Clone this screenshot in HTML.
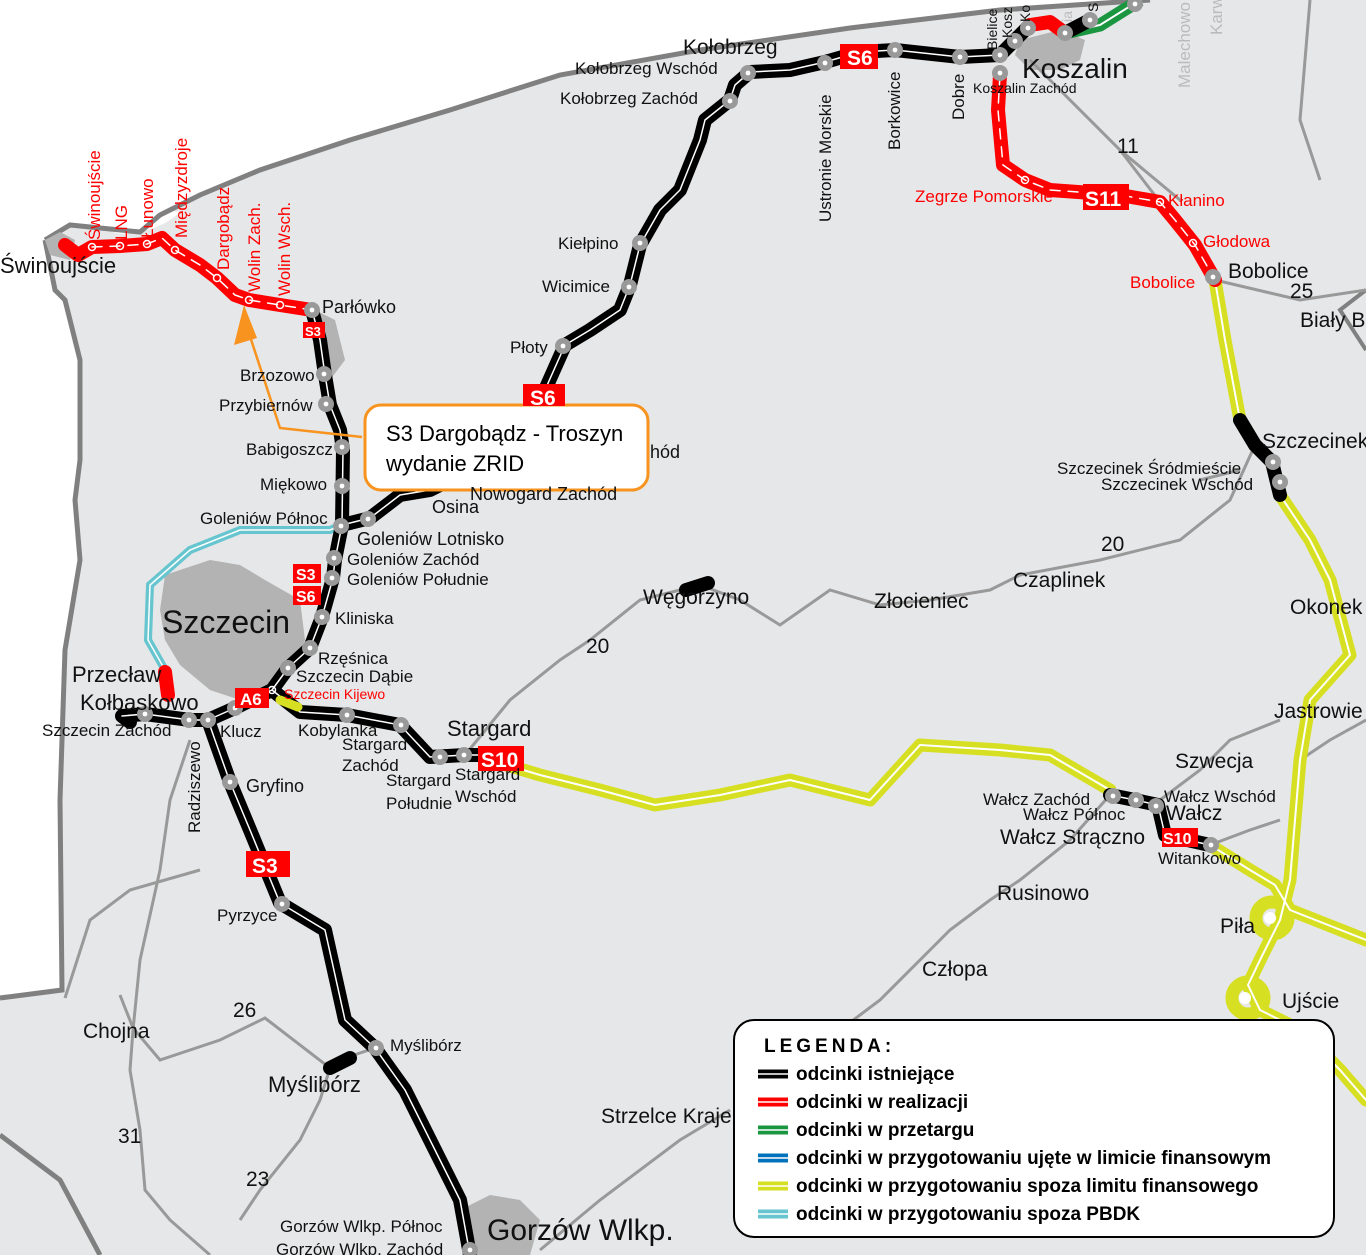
<!DOCTYPE html>
<html><head><meta charset="utf-8"><style>
html,body{margin:0;padding:0;background:#fff}
svg{display:block}
text{font-family:"Liberation Sans","DejaVu Sans",sans-serif}
</style></head><body>
<svg width="1366" height="1255" viewBox="0 0 1366 1255" xmlns="http://www.w3.org/2000/svg">
<!-- land -->
<path d="M45,240 L70,225 L100,228 L140,232 L160,215 L200,195 L260,170 L350,140 L450,110 L560,75 L700,50 L850,28 L1000,10 L1150,0 L1366,0 L1366,1255 L0,1255 L0,995 L62,990 L60,800 L65,650 L80,560 L75,500 L80,460 L80,360 L65,300 L55,290 Z" fill="#e6e7e8"/>
<path d="M100,228 Q140,205 180,212 Q160,232 120,234 Z" fill="#fff"/>
<path d="M45,240 L70,225 L100,228 L140,232 L160,215 L200,195 L260,170 L350,140 L450,110 L560,75 L700,50 L850,28 L1000,10 L1150,0" fill="none" stroke="#808080" stroke-width="5"/>
<path d="M45,240 L55,290 L65,300 L80,360 L80,460 L75,500 L80,560 L65,650 L60,800 L62,990 L0,998" fill="none" stroke="#808080" stroke-width="5"/>
<path d="M0,1135 L60,1180 L100,1255" fill="none" stroke="#808080" stroke-width="5"/>
<path d="M1366,290 L1340,310 L1366,350" fill="none" stroke="#808080" stroke-width="4"/>
<!-- city blobs -->
<path d="M45,240 L60,232 L75,240 L70,260 L50,255 Z" fill="#b3b3b3"/>
<path d="M315,310 L335,320 L345,360 L330,380 L320,340 Z" fill="#b3b3b3"/>
<path d="M165,575 L210,560 L240,565 L265,580 L300,600 L305,640 L290,670 L270,690 L240,700 L210,690 L180,665 L165,640 L160,610 Z" fill="#b3b3b3"/>
<path d="M1020,40 L1060,30 L1085,40 L1080,60 L1060,70 L1030,70 L1015,55 Z" fill="#b3b3b3"/>
<path d="M460,1210 L490,1195 L520,1200 L540,1220 L530,1255 L470,1255 Z" fill="#b3b3b3"/>
<!-- minor roads -->
<g fill="none" stroke="#999" stroke-width="3">
<path d="M1030,60 L1120,150 L1180,200"/>
<path d="M1215,280 L1300,300 L1366,290"/>
<path d="M1255,445 L1230,500 L1180,540 L1100,560 L1020,575 L990,590 L930,600 L880,605 L830,590 L780,625 L740,600 L700,585 L640,600 L590,640 L560,660 L510,700 L465,755"/>
<path d="M1110,795 L1070,840 L1020,880 L990,900 L950,930 L930,950 L880,1000 L840,1030 L780,1080 L740,1110"/>
<path d="M120,995 L133,1028 L160,1060 L220,1040 L265,1018 L330,1068 L320,1100 L300,1140 L260,1190 L240,1220"/>
<path d="M133,1030 L130,1070 L140,1130 L145,1190 L170,1220 L210,1255"/>
<path d="M133,1030 L140,960 L160,870 L170,800 L190,740"/>
<path d="M65,998 L90,920 L130,890 L200,870"/>
<path d="M345,1058 L375,1048"/>
<path d="M540,1250 L600,1200 L680,1140 L730,1110"/>
<path d="M1160,800 L1200,770 L1230,740 L1280,720"/>
<path d="M1210,845 L1250,830 L1280,820"/>
<path d="M1300,760 L1330,740 L1366,720"/>
<path d="M1160,202 L1120,150"/>
<path d="M1240,420 L1230,380"/>
<path d="M1200,480 L1240,470"/>
<path d="M1310,0 L1300,120 L1320,180"/>
</g>
<!-- cyan -->
<path d="M342,525 L330,530 L240,530 L190,550 L150,585 L148,640 L165,670" fill="none" stroke="#66c5cf" stroke-width="8"/>
<path d="M342,525 L330,530 L240,530 L190,550 L150,585 L148,640 L165,670" fill="none" stroke="#fff" stroke-width="1.5"/>
<!-- yellow -->
<g fill="none" stroke-linejoin="round" stroke-linecap="round">
<g stroke="#d7df23" stroke-width="13">
<path d="M490,760 L540,775 L600,790 L655,805 L720,795 L790,780 L870,800 L920,745 L1000,750 L1050,755 L1110,790"/>
<path d="M1210,845 L1250,870 L1275,885 L1290,910 L1366,940"/>
<path d="M1215,280 L1225,340 L1240,420"/>
<path d="M1280,495 L1310,540 L1330,580 L1350,655 L1310,700 L1300,760 L1295,820 L1290,880 L1280,920 L1260,960 L1248,985 L1260,1010 L1300,1030 L1340,1070 L1366,1100"/>
<circle cx="1272" cy="918" r="16"/>
<circle cx="1248" cy="998" r="16"/>
</g>
<g stroke="#fff" stroke-width="2">
<path d="M490,760 L540,775 L600,790 L655,805 L720,795 L790,780 L870,800 L920,745 L1000,750 L1050,755 L1110,790"/>
<path d="M1210,845 L1250,870 L1275,885 L1290,910 L1366,940"/>
<path d="M1215,280 L1225,340 L1240,420"/>
<path d="M1280,495 L1310,540 L1330,580 L1350,655 L1310,700 L1300,760 L1295,820 L1290,880 L1280,920 L1260,960 L1248,985 L1260,1010 L1300,1030 L1340,1070 L1366,1100"/>
</g>
<circle cx="1270" cy="918" r="6" fill="#fff" stroke="none"/>
<circle cx="1245" cy="998" r="6" fill="#fff" stroke="none"/>
</g>
<!-- green -->
<path d="M1065,33 L1100,25 L1140,0" fill="none" stroke="#1a9641" stroke-width="13"/>
<path d="M1065,33 L1100,25 L1140,0" fill="none" stroke="#fff" stroke-width="2"/>
<!-- black -->
<g fill="none" stroke-linejoin="round" stroke-linecap="round">
<g stroke="#000" stroke-width="14">
<path d="M1000,55 L960,57 L895,50 L860,52 L825,62 L790,70 L750,72 L735,85 L730,100 L705,120 L700,140 L680,190 L660,210 L640,245 L630,285 L620,310 L590,330 L565,345 L545,390"/>
<path d="M1000,55 L1015,40 L1030,25"/>
<path d="M1065,33 L1090,20"/>
<path d="M342,525 L370,518 L400,495 L430,490 L470,470"/>
<path d="M312,310 L320,340 L325,375 L330,405 L340,430 L343,450 L342,525 L335,560 L333,578 L322,617 L310,648 L288,668 L272,690 L235,708 L208,720 L190,720 L145,714 L122,716 L130,722"/>
<path d="M208,720 L215,740 L230,782 L250,830 L280,903 L325,930 L345,1020 L375,1048 L405,1090 L435,1150 L460,1200 L470,1255"/>
<path d="M272,690 L300,712 L347,715 L400,725 L430,757 L465,755 L490,755"/>
<path d="M1110,795 L1135,800 L1158,805 L1165,835 L1210,845"/>
<path d="M1240,420 L1255,445 L1272,462 L1280,495"/>
<path d="M686,590 L708,583"/>
<path d="M330,1068 L350,1058"/>
</g>
<g stroke="#fff" stroke-width="1.5">
<path d="M1000,55 L960,57 L895,50 L860,52 L825,62 L790,70 L750,72 L735,85 L730,100 L705,120 L700,140 L680,190 L660,210 L640,245 L630,285 L620,310 L590,330 L565,345 L545,390"/>
<path d="M342,525 L370,518 L400,495 L430,490 L470,470"/>
<path d="M312,310 L320,340 L325,375 L330,405 L340,430 L343,450 L342,525 L335,560 L333,578 L322,617 L310,648 L288,668 L272,690 L235,708 L208,720 L190,720 L145,714 L122,716"/>
<path d="M208,720 L215,740 L230,782 L250,830 L280,903 L325,930 L345,1020 L375,1048 L405,1090 L435,1150 L460,1200 L470,1255"/>
<path d="M272,690 L300,712 L347,715 L400,725 L430,757 L465,755 L490,755"/>
<path d="M1110,795 L1135,800 L1158,805 L1165,835 L1210,845"/>
</g>
</g>
<!-- red -->
<g fill="none" stroke-linejoin="round" stroke-linecap="round">
<g stroke="#f00" stroke-width="14">
<path d="M65,245 L78,255 L92,247 L120,246 L147,244 L162,238 L175,250 L200,265 L217,278 L235,295 L249,300 L280,305 L312,310"/>
<path d="M1000,75 L998,110 L1003,165 L1025,180 L1050,190 L1120,195 L1160,202 L1175,220 L1195,245 L1215,280"/>
<path d="M1030,25 L1050,22 L1065,33"/>
<path d="M165,672 L168,695"/>
</g>
<g stroke="#fff" stroke-width="1.5" stroke-dasharray="10,8">
<path d="M92,247 L120,246 L147,244 L162,238 L175,250 L200,265 L217,278 L235,295 L249,300 L280,305 L312,310"/>
<path d="M1000,75 L998,110 L1003,165 L1025,180 L1050,190 L1120,195 L1160,202 L1175,220 L1195,245 L1215,280"/>
</g>
</g>
<!-- nodes -->
<g>
<g fill="#999" stroke="none">
<circle cx="1000" cy="55" r="8"/><circle cx="960" cy="57" r="8"/><circle cx="895" cy="50" r="8"/><circle cx="825" cy="63" r="8"/><circle cx="748" cy="73" r="8"/><circle cx="730" cy="101" r="8"/><circle cx="640" cy="243" r="8"/><circle cx="629" cy="287" r="8"/><circle cx="563" cy="346" r="8"/>
<circle cx="1015" cy="41" r="8"/><circle cx="1028" cy="28" r="8"/><circle cx="1090" cy="20" r="8"/><circle cx="1135" cy="4" r="8"/>
<circle cx="312" cy="310" r="8"/><circle cx="324" cy="374" r="8"/><circle cx="326" cy="404" r="8"/><circle cx="342" cy="447" r="8"/><circle cx="342" cy="486" r="8"/><circle cx="341" cy="526" r="8"/><circle cx="368" cy="519" r="8"/><circle cx="334" cy="558" r="8"/><circle cx="332" cy="578" r="8"/><circle cx="322" cy="617" r="8"/><circle cx="310" cy="648" r="8"/><circle cx="288" cy="668" r="8"/>
<circle cx="235" cy="708" r="8"/><circle cx="208" cy="720" r="8"/><circle cx="189" cy="720" r="8"/><circle cx="145" cy="714" r="8"/><circle cx="230" cy="782" r="8"/><circle cx="282" cy="904" r="8"/><circle cx="376" cy="1048" r="8"/><circle cx="470" cy="1250" r="8"/>
<circle cx="347" cy="715" r="8"/><circle cx="401" cy="725" r="8"/><circle cx="440" cy="757" r="8"/><circle cx="464" cy="755" r="8"/>
<circle cx="1113" cy="796" r="8"/><circle cx="1136" cy="800" r="8"/><circle cx="1156" cy="806" r="8"/><circle cx="1211" cy="845" r="8"/><circle cx="1273" cy="462" r="8"/><circle cx="1280" cy="482" r="8"/>
<circle cx="1000" cy="73" r="8"/><circle cx="1065" cy="33" r="8"/><circle cx="1213" cy="277" r="8"/>
</g>
<g fill="#fff"><circle cx="1000" cy="55" r="2.4"/><circle cx="960" cy="57" r="2.4"/><circle cx="895" cy="50" r="2.4"/><circle cx="825" cy="63" r="2.4"/><circle cx="748" cy="73" r="2.4"/><circle cx="730" cy="101" r="2.4"/><circle cx="640" cy="243" r="2.4"/><circle cx="629" cy="287" r="2.4"/><circle cx="563" cy="346" r="2.4"/><circle cx="1015" cy="41" r="2.4"/><circle cx="1028" cy="28" r="2.4"/><circle cx="1090" cy="20" r="2.4"/><circle cx="1135" cy="4" r="2.4"/><circle cx="312" cy="310" r="2.4"/><circle cx="324" cy="374" r="2.4"/><circle cx="326" cy="404" r="2.4"/><circle cx="342" cy="447" r="2.4"/><circle cx="342" cy="486" r="2.4"/><circle cx="341" cy="526" r="2.4"/><circle cx="368" cy="519" r="2.4"/><circle cx="334" cy="558" r="2.4"/><circle cx="332" cy="578" r="2.4"/><circle cx="322" cy="617" r="2.4"/><circle cx="310" cy="648" r="2.4"/><circle cx="288" cy="668" r="2.4"/><circle cx="235" cy="708" r="2.4"/><circle cx="208" cy="720" r="2.4"/><circle cx="189" cy="720" r="2.4"/><circle cx="145" cy="714" r="2.4"/><circle cx="230" cy="782" r="2.4"/><circle cx="282" cy="904" r="2.4"/><circle cx="376" cy="1048" r="2.4"/><circle cx="470" cy="1250" r="2.4"/><circle cx="347" cy="715" r="2.4"/><circle cx="401" cy="725" r="2.4"/><circle cx="440" cy="757" r="2.4"/><circle cx="464" cy="755" r="2.4"/><circle cx="1113" cy="796" r="2.4"/><circle cx="1136" cy="800" r="2.4"/><circle cx="1156" cy="806" r="2.4"/><circle cx="1211" cy="845" r="2.4"/><circle cx="1273" cy="462" r="2.4"/><circle cx="1280" cy="482" r="2.4"/><circle cx="1000" cy="73" r="2.4"/><circle cx="1065" cy="33" r="2.4"/><circle cx="1213" cy="277" r="2.4"/></g>
<g fill="none" stroke="#fff" stroke-width="1.5">
<circle cx="92" cy="247" r="3.5"/><circle cx="120" cy="246" r="3.5"/><circle cx="147" cy="244" r="3.5"/><circle cx="175" cy="250" r="3.5"/><circle cx="217" cy="278" r="3.5"/><circle cx="249" cy="300" r="3.5"/><circle cx="280" cy="305" r="3.5"/><circle cx="1025" cy="180" r="3.5"/><circle cx="1160" cy="202" r="3.5"/><circle cx="1193" cy="243" r="3.5"/><circle cx="272" cy="690" r="3.5"/>
</g>
</g>
<!-- A6 yellow bit -->
<path d="M280,700 L298,707" stroke="#d7df23" stroke-width="9" stroke-linecap="round"/>
<!-- orange arrow -->
<path d="M362,437 L280,428 L244,318" fill="none" stroke="#f7931e" stroke-width="2.5"/>
<path d="M244,305 L234,345 L257,338 Z" fill="#f7931e"/>
<rect x="365" y="405" width="283" height="85" rx="16" fill="#fff" stroke="#f7931e" stroke-width="3"/>
<text x="386" y="441" font-size="22">S3 Dargobądz - Troszyn</text>
<text x="386" y="471" font-size="22">wydanie ZRID</text>
<!-- red shield labels -->
<g font-weight="bold" fill="#fff">
<rect x="840" y="44" width="38" height="25" fill="#f00"/><text x="847" y="65" font-size="21">S6</text>
<rect x="523" y="384" width="42" height="22" fill="#f00"/><text x="530" y="405" font-size="21">S6</text>
<rect x="303" y="322" width="22" height="16" fill="#f00"/><text x="305" y="336" font-size="13">S3</text>
<rect x="293" y="564" width="28" height="19" fill="#f00"/><text x="296" y="580" font-size="16">S3</text>
<rect x="293" y="586" width="28" height="19" fill="#f00"/><text x="296" y="602" font-size="16">S6</text>
<rect x="235" y="688" width="34" height="20" fill="#f00"/><text x="240" y="705" font-size="17">A6</text>
<rect x="478" y="746" width="46" height="25" fill="#f00"/><text x="481" y="767" font-size="21">S10</text>
<rect x="1083" y="184" width="46" height="26" fill="#f00"/><text x="1085" y="206" font-size="21">S11</text>
<rect x="1162" y="828" width="36" height="19" fill="#f00"/><text x="1163" y="844" font-size="16">S10</text>
<rect x="246" y="851" width="44" height="26" fill="#f00"/><text x="252" y="873" font-size="21">S3</text>
</g>
<!-- labels black -->
<g fill="#111" font-size="17">
<text x="0" y="273" font-size="22">Świnoujście</text>
<text x="322" y="313" font-size="18">Parłówko</text>
<text x="240" y="381">Brzozowo</text>
<text x="219" y="411">Przybiernów</text>
<text x="246" y="455">Babigoszcz</text>
<text x="260" y="490">Miękowo</text>
<text x="200" y="524">Goleniów Północ</text>
<text x="432" y="513" font-size="18">Osina</text>
<text x="470" y="500" font-size="18">Nowogard Zachód</text>
<text x="650" y="458" font-size="18">hód</text>
<text x="357" y="545" font-size="18">Goleniów Lotnisko</text>
<text x="347" y="565">Goleniów Zachód</text>
<text x="347" y="585">Goleniów Południe</text>
<text x="335" y="624">Kliniska</text>
<text x="162" y="633" font-size="32">Szczecin</text>
<text x="318" y="664">Rzęśnica</text>
<text x="296" y="682">Szczecin Dąbie</text>
<text x="72" y="682" font-size="22">Przecław</text>
<text x="80" y="710" font-size="22">Kołbaskowo</text>
<text x="42" y="736">Szczecin Zachód</text>
<text x="220" y="737">Klucz</text>
<text x="298" y="736">Kobylanka</text>
<text x="342" y="750">Stargard</text>
<text x="342" y="771">Zachód</text>
<text x="386" y="786">Stargard</text>
<text x="386" y="809">Południe</text>
<text x="455" y="780">Stargard</text>
<text x="455" y="802">Wschód</text>
<text x="447" y="736" font-size="22">Stargard</text>
<text x="246" y="792" font-size="18">Gryfino</text>
<text x="217" y="921" font-size="17">Pyrzyce</text>
<text x="390" y="1051">Myślibórz</text>
<text x="268" y="1092" font-size="22">Myślibórz</text>
<text x="83" y="1038" font-size="21">Chojna</text>
<text x="233" y="1017" font-size="21">26</text>
<text x="118" y="1143" font-size="21">31</text>
<text x="246" y="1186" font-size="21">23</text>
<text x="280" y="1232">Gorzów Wlkp. Północ</text>
<text x="276" y="1255">Gorzów Wlkp. Zachód</text>
<text x="487" y="1240" font-size="30">Gorzów Wlkp.</text>
<text x="601" y="1123" font-size="21">Strzelce Kraje</text>
<text x="586" y="653" font-size="21">20</text>
<text x="643" y="604" font-size="21">Węgorzyno</text>
<text x="874" y="608" font-size="21">Złocieniec</text>
<text x="1013" y="587" font-size="21">Czaplinek</text>
<text x="1101" y="551" font-size="21">20</text>
<text x="1290" y="614" font-size="21">Okonek</text>
<text x="1274" y="718" font-size="21">Jastrowie</text>
<text x="1175" y="768" font-size="21">Szwecja</text>
<text x="983" y="805">Wałcz Zachód</text>
<text x="1023" y="820">Wałcz Północ</text>
<text x="1164" y="802">Wałcz Wschód</text>
<text x="1166" y="820" font-size="21">Wałcz</text>
<text x="1000" y="844" font-size="21">Wałcz Strączno</text>
<text x="1158" y="864" font-size="17">Witankowo</text>
<text x="997" y="900" font-size="21">Rusinowo</text>
<text x="1220" y="933" font-size="21">Piła</text>
<text x="1282" y="1008" font-size="21">Ujście</text>
<text x="922" y="976" font-size="21">Człopa</text>
<text x="1262" y="448" font-size="21">Szczecinek</text>
<text x="1057" y="474">Szczecinek Śródmieście</text>
<text x="1101" y="490">Szczecinek Wschód</text>
<text x="1228" y="278" font-size="21">Bobolice</text>
<text x="1290" y="298" font-size="21">25</text>
<text x="1300" y="327" font-size="21">Biały B</text>
<text x="1117" y="153" font-size="21">11</text>
<text x="1022" y="78" font-size="28">Koszalin</text>
<text x="973" y="93" font-size="14">Koszalin Zachód</text>
<text x="683" y="54" font-size="21">Kołobrzeg</text>
<text x="575" y="74" font-size="17">Kołobrzeg Wschód</text>
<text x="560" y="104">Kołobrzeg Zachód</text>
<text x="558" y="249">Kiełpino</text>
<text x="542" y="292">Wicimice</text>
<text x="510" y="353">Płoty</text>
<text transform="translate(831,222) rotate(-90)" font-size="17">Ustronie Morskie</text>
<text transform="translate(900,150) rotate(-90)" font-size="17">Borkowice</text>
<text transform="translate(964,120) rotate(-90)" font-size="17">Dobre</text>
<text transform="translate(997,50) rotate(-90)" font-size="14">Bielice</text>
<text transform="translate(1012,38) rotate(-90)" font-size="14">Kosz</text>
<text transform="translate(1030,22) rotate(-90)" font-size="14">Ko</text>
<text transform="translate(1098,12) rotate(-90)" font-size="14">S</text>
<text transform="translate(200,833) rotate(-90)" font-size="17">Radziszewo</text>
</g>
<g fill="#bbb" font-size="17">
<text transform="translate(1190,88) rotate(-90)">Malechowo</text>
<text transform="translate(1222,35) rotate(-90)">Karw</text>
<text transform="translate(1072,22) rotate(-90)" font-size="14">ia</text>
</g>
<g fill="#f00" font-size="17">
<text x="915" y="202">Zegrze Pomorskie</text>
<text x="1168" y="206">Kłanino</text>
<text x="1203" y="247">Głodowa</text>
<text x="1130" y="288">Bobolice</text>
<text x="284" y="699" font-size="14">Szczecin Kijewo</text>
<text transform="translate(100,240) rotate(-90)">Świnoujście</text>
<text transform="translate(127,240) rotate(-90)">LNG</text>
<text transform="translate(153,238) rotate(-90)">Łunowo</text>
<text transform="translate(187,238) rotate(-90)">Międzyzdroje</text>
<text transform="translate(229,270) rotate(-90)">Dargobądz</text>
<text transform="translate(260,292) rotate(-90)">Wolin Zach.</text>
<text transform="translate(290,296) rotate(-90)">Wolin Wsch.</text>
</g>
<!-- legend -->
<rect x="734" y="1020" width="600" height="217" rx="20" fill="#fff" stroke="#000" stroke-width="2"/>
<text x="764" y="1052" font-size="19" font-weight="bold" letter-spacing="4">LEGENDA:</text>
<g stroke-width="9" fill="none">
<line x1="758" y1="1074" x2="788" y2="1074" stroke="#000"/>
<line x1="758" y1="1102" x2="788" y2="1102" stroke="#f00"/>
<line x1="758" y1="1130" x2="788" y2="1130" stroke="#1a9641"/>
<line x1="758" y1="1158" x2="788" y2="1158" stroke="#0072bc"/>
<line x1="758" y1="1186" x2="788" y2="1186" stroke="#d7df23"/>
<line x1="758" y1="1214" x2="788" y2="1214" stroke="#66c5cf"/>
</g>
<g stroke="#fff" stroke-width="1.5"><line x1="758" y1="1074" x2="788" y2="1074"/><line x1="758" y1="1102" x2="788" y2="1102"/><line x1="758" y1="1130" x2="788" y2="1130"/><line x1="758" y1="1158" x2="788" y2="1158"/><line x1="758" y1="1186" x2="788" y2="1186"/><line x1="758" y1="1214" x2="788" y2="1214"/></g>
<g font-size="19" font-weight="bold" fill="#000">
<text x="796" y="1080">odcinki istniejące</text>
<text x="796" y="1108">odcinki w realizacji</text>
<text x="796" y="1136">odcinki w przetargu</text>
<text x="796" y="1164">odcinki w przygotowaniu ujęte w limicie finansowym</text>
<text x="796" y="1192">odcinki w przygotowaniu spoza limitu finansowego</text>
<text x="796" y="1220">odcinki w przygotowaniu spoza PBDK</text>
</g>
</svg>
</body></html>
